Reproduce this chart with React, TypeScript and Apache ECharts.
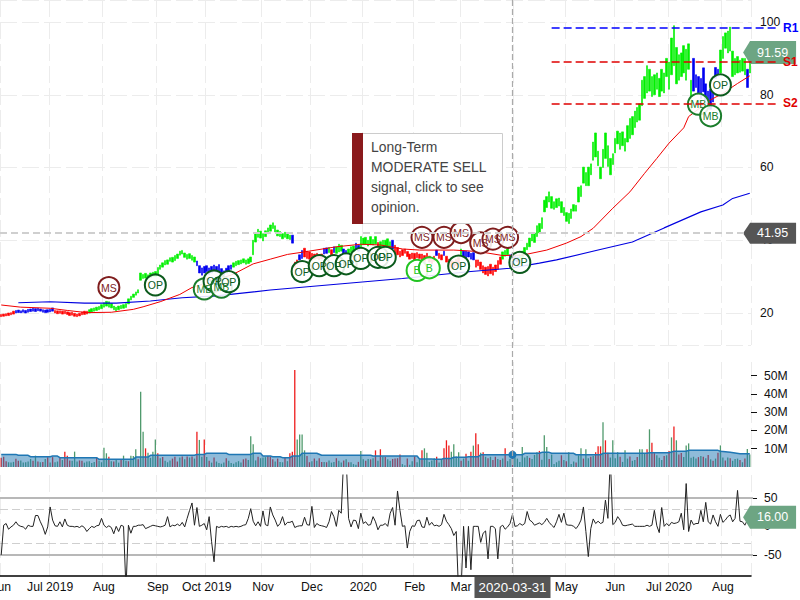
import React, { useEffect, useRef } from "react";
import * as echarts from "echarts";

const FONT = '"Liberation Sans", Arial, sans-serif';

const holidays = ["2019-07-04", "2019-09-02", "2019-11-28", "2019-12-25", "2020-01-01", "2020-01-20", "2020-02-17", "2020-04-10", "2020-05-25", "2020-07-03"];
const firstDay = "2019-06-03";
const barCount = 307;

const monthLabels: Record<string, string> = {
  "2019-06": "Jun", "2019-07": "Jul 2019", "2019-08": "Aug", "2019-09": "Sep", "2019-10": "Oct 2019",
  "2019-11": "Nov", "2019-12": "Dec", "2020-01": "2020", "2020-02": "Feb", "2020-03": "Mar",
  "2020-04": "Apr", "2020-05": "May", "2020-06": "Jun", "2020-07": "Jul 2020", "2020-08": "Aug",
};

// [low, high] of each trading day
const priceBars = [
  [19.0,19.6],[19.1,19.7],[19.2,19.8],[19.3,20.0],[19.5,20.1],[19.7,20.5],
  [20.0,20.7],[20.1,20.8],[20.0,20.6],[20.2,20.9],[20.0,20.7],[20.2,21.0],[20.4,21.1],[20.5,21.3],[20.4,21.2],[20.6,21.3],[20.5,21.1],[20.2,20.9],[20.1,20.8],[20.2,20.9],[20.3,21.0],[20.5,21.4],
  [20.0,20.7],[19.8,20.6],[19.9,20.6],[19.7,20.5],[19.8,20.5],[19.6,20.3],[19.3,20.1],[19.4,20.2],[19.1,19.9],[19.0,19.7],[19.2,19.9],[19.5,20.3],[19.6,20.5],[19.7,20.5],
  [20.0,20.9],[20.3,21.2],[20.5,21.4],[20.7,21.6],[20.9,21.8],[21.2,22.3],[21.6,22.8],[21.9,23.2],[21.6,23.1],[21.4,22.6],[20.9,21.9],[20.6,21.6],[20.9,21.9],[21.2,22.1],[21.3,22.3],[21.5,22.6],
  [22.5,23.9],[23.6,24.6],[24.3,25.2],[24.9,25.8],[25.5,26.4],[29.0,31.0],[29.5,30.6],[29.6,30.9],[29.4,30.5],[29.7,31.0],[30.0,31.2],[30.0,31.4],[30.5,32.5],[32.0,33.2],[32.6,33.8],[33.2,34.4],
  [33.4,34.6],[34.2,35.2],[34.0,35.3],[34.4,35.8],[35.0,36.2],[35.9,37.0],[36.2,37.2],[35.3,36.5],[34.8,36.1],[35.0,36.3],[34.5,35.8],[34.0,35.4],
  [33.0,34.3],[31.0,33.0],[30.4,32.4],[31.0,32.8],[31.4,33.0],[30.6,32.4],[31.0,32.8],[31.6,33.2],[31.2,32.8],[31.5,33.3],[30.6,32.2],[30.4,31.6],[31.0,32.3],[31.5,33.0],[32.0,33.2],
  [32.6,33.8],[33.0,34.2],[33.3,34.4],[33.5,34.6],[33.8,34.9],[33.4,34.6],[33.6,34.9],[34.0,35.4],[36.0,40.0],[39.5,41.8],[40.8,43.0],[40.6,42.5],[39.8,41.8],[41.0,42.6],[41.8,43.4],[42.5,44.2],[43.2,44.8],
  [42.3,44.0],[41.2,42.8],[41.0,42.4],[40.4,41.8],[40.8,42.2],[40.4,41.8],[40.2,41.4],[39.2,41.4],
  [32.6,34.0],[33.4,34.6],[34.6,36.0],[35.0,37.2],[35.4,37.8],[35.0,37.0],[34.8,36.8],[34.5,36.4],[34.8,36.2],[35.0,36.4],[34.6,36.0],[34.9,36.2],
  [36.2,37.8],[36.4,37.9],[36.6,38.0],[36.0,37.4],[36.6,38.2],[36.4,38.2],[36.8,38.9],[37.0,38.6],[36.3,37.6],[36.0,37.2],[36.2,37.6],[36.6,38.2],[37.0,38.4],[37.6,39.2],[37.0,38.6],
  [38.2,41.0],[38.8,40.6],[38.9,40.8],[38.4,40.0],[38.8,41.0],[38.7,40.2],[39.0,41.0],[37.0,39.4],[38.0,39.6],[38.2,40.0],[38.5,40.0],[38.4,40.4],[38.0,39.6],[37.6,40.0],
  [36.4,38.6],[36.0,38.0],[35.4,37.0],[35.8,37.4],[36.4,37.6],[35.5,36.9],[34.8,36.2],[35.0,36.5],[34.6,36.4],[35.2,36.6],[35.0,36.2],[34.5,36.2],[34.2,35.8],[34.8,36.4],[34.0,35.6],[33.6,35.2],[34.2,35.6],
  [35.8,37.3],[35.0,36.4],[34.6,36.0],[35.8,37.0],[34.0,35.6],[32.8,34.8],[32.6,34.4],[32.4,34.2],[33.0,34.8],[33.4,35.2],[36.0,37.6],[35.6,37.0],[35.0,37.0],[35.4,36.8],[34.8,36.4],[34.6,36.6],
  [32.6,34.6],[33.0,34.6],[32.0,34.0],[31.0,33.0],[30.6,32.6],[30.2,32.8],[30.8,33.4],[30.4,32.6],[31.4,33.2],[32.0,34.4],[33.4,35.4],
  [34.8,36.8],[35.6,37.2],[36.0,37.6],[34.6,36.0],[34.8,36.2],[34.4,35.8],[34.0,35.4],
  [34.4,36.0],[35.2,37.0],[36.0,38.0],[37.4,39.2],[38.2,40.6],[39.8,41.8],[39.4,42.0],[41.0,44.0],[42.0,44.6],[43.2,46.2],[47.8,51.0],[49.0,52.0],[50.5,53.3],[48.8,52.0],[48.5,50.6],[49.0,51.4],[49.4,51.6],
  [47.6,50.6],[46.8,49.0],[45.2,47.6],[44.6,47.4],[46.0,48.6],[48.0,49.8],[48.0,49.6],[50.5,54.6],[52.0,55.0],[55.7,60.1],[55.0,58.6],[55.0,60.1],[58.0,61.0],[62.0,67.0],[62.9,69.5],[60.5,64.5],[56.9,60.1],
  [60.0,65.0],[62.5,69.5],[60.3,66.0],[58.0,62.5],[60.8,63.8],[64.0,68.0],[66.5,70.0],[65.0,69.5],[66.0,69.8],[64.5,68.0],[67.0,71.5],[68.0,73.5],[69.0,74.0],[71.0,75.5],[72.5,76.5],[73.0,77.5],
  [77.0,84.0],[79.0,85.0],[80.5,88.0],[81.0,87.0],[79.5,85.0],[80.0,85.5],[81.5,86.0],[79.5,84.5],[81.0,87.0],[80.5,86.0],[85.0,90.0],[81.5,89.0],[85.5,95.6],[88.0,99.0],[83.0,93.0],[84.0,91.0],[85.0,91.5],[86.0,93.5],[84.0,92.5],[87.0,94.0],[76.0,84.0],
  [81.0,90.0],[82.0,85.5],[80.5,85.0],[79.0,84.5],[80.8,87.4],[78.5,83.0],[76.5,81.0],[76.0,81.5],[78.0,81.0],[84.5,87.5],[85.0,87.0],
  [86.0,92.3],[90.0,96.0],[92.8,97.0],[91.5,97.5],[92.0,98.6],[85.0,92.0],[85.5,90.0],[86.0,90.5],[86.2,89.5],[86.5,90.0],[85.5,90.0],[82.0,87.0],[86.0,92.0],
];

// runs of bar colour: the index of each run's last bar, and its colour
const trendEnds = [5, 21, 35, 79, 94, 118, 119, 121, 123, 131, 133, 134, 135, 136, 139, 141, 144, 146, 153, 154, 159, 160, 177, 178, 180, 181, 187, 188, 193, 204, 207, 211, 282, 293, 304, 305, 306];
const trendColors = ["r","b","r","g","b","g","b","r","b","r","b","g","r","b","g","b","g","b","g","r","g","b","r","b","r","b","r","g","b","r","g","b","g","b","g","b","g"];
const barPalette: Record<string, string> = { r: "#ff0000", g: "#00f000", b: "#0000f0" };

const redAverageIdx = [0,8,20,27,35,45,54,58,65,73,78,87,95,103,110,117,123,137,147,155,164,171,185,195,205,213,223,231,237,242,250,257,263,268,273,279,281,290,295,301,306];
const redAverageVal = [22.2,21.6,21.3,20.7,20.1,20.2,21.0,21.7,23.1,25.1,27.0,28.8,30.7,33.5,34.8,36.1,36.7,38.2,38.9,38.7,37.6,37.3,37.3,36.9,35.8,35.9,37.3,39.2,41.0,43.3,48.8,53.3,58.4,62.5,66.7,70.9,74.0,78.6,80.4,83.1,85.2];
const blueAverageIdx = [7,20,34,47,61,74,88,110,137,164,192,208,220,227,244,258,271,286,295,299,306];
const blueAverageVal = [22.8,23.1,22.7,22.7,23.3,24.2,24.7,26.3,27.9,29.5,31.4,32.3,33.7,34.6,37.3,39.5,43.4,47.8,49.7,51.5,52.9];

const markerIdx = [44,63,83,87,90,93,123,130,136,141,147,154,157,170,172,175,181,187,188,196,201,207,212,285,290,294];
const markerVal = [27.0,27.7,26.6,28.8,27.1,28.6,31.4,33,33,33.5,35,35.3,35.3,31.7,40.8,32.4,40.8,32.9,42.1,39.3,40.3,40.8,33.9,77.4,74.2,82.7];
const markerText = ["MS","OP","MB","OP","MB","OP","OP","OP","OP","OP","OP","OP","OP","B","MS","B","MS","OP","MS","MS","MS","MS","OP","MB","MB","OP"];
const markerColor: Record<string, string> = { MS: "#7f1d1d", OP: "#0b5a1c", MB: "#1b7d2c", B: "#22c322" };

const levelNames = ["R1", "S1", "S2"];
const levelVals = [98.3, 89.1, 77.6];
const levelColors = ["#0000ff", "#e00000", "#e00000"];
const levelStartIdx = 225;

const lastPrice = 91.59;
const hoverPrice = 41.95;
const lastCci = 16.0;
const hoverIdx = 209;
const hoverVolume = 6.7;

const volumes = [
  5.0,5.6,3.2,2.6,2.4,2.8,4.5,3.4,3.6,2.4,2.6,3.0,4.4,3.4,6.2,3.0,2.6,2.8,4.4,5.3,
  2.4,5.4,2.6,3.0,5.5,3.8,8.4,6.2,3.6,3.4,8.4,3.0,3.6,3.4,2.4,3.0,3.2,2.2,2.8,5.0,
  3.6,2.6,10.5,7.5,5.6,3.2,3.0,3.8,2.4,4.2,6.2,3.4,3.2,6.2,6.0,9.7,4.2,41.2,19.3,10.2,
  7.8,5.0,8.4,15.1,7.5,4.8,5.5,3.4,2.6,3.6,4.6,5.6,3.0,5.2,5.8,4.2,5.8,5.2,5.8,4.6,
  19.3,14.8,5.6,15.1,5.4,3.4,2.4,5.2,3.0,2.2,1.8,2.4,4.8,3.4,2.2,1.8,2.6,3.2,2.4,4.2,
  4.6,3.8,16.8,12.4,3.6,5.6,4.8,5.2,5.4,6.0,5.6,4.2,3.0,4.6,2.8,2.6,5.4,3.2,7.5,8.4,
  53,15.1,17.8,17.8,9.1,6.0,2.6,3.2,4.6,3.4,4.8,2.8,2.8,2.6,3.6,2.4,2.8,4.8,3.4,2.4,
  3.6,4.2,2.6,2.6,1.6,1.2,2.8,8.8,4.2,3.4,4.4,4.2,4.8,9.1,3.4,9.7,5.6,5.4,4.2,3.4,
  4.4,4.6,4.8,6.9,1.6,1.0,4.6,1.2,3.2,5.8,2.6,4.2,9.1,10.2,7.8,2.8,3.6,4.8,5.6,2.4,
  4.2,10.2,14.6,11.7,8.4,12.4,5.8,8.0,3.4,4.6,7.3,3.4,8.4,11.7,18.4,12.4,7.8,8.0,5.6,4.8,
  5.6,3.8,5.6,4.4,3.8,4.6,10.2,3.2,4.4,9.1,5.2,4.6,2.8,11.0,5.2,6.0,5.0,4.4,6.6,8.0,
  8.8,4.0,17.3,11.0,4.4,6.8,1.6,2.6,3.4,6.4,3.8,3.2,8.0,1.6,3.0,2.4,6.4,10.2,4.6,9.7,
  4.8,5.6,6.0,8.0,11.3,11.3,24.4,14.6,7.8,5.2,14.6,4.8,8.0,5.6,2.8,9.1,4.6,5.8,3.4,3.8,
  5.4,9.7,9.7,7.2,9.7,20.6,13.3,7.6,6.4,5.0,3.8,6.0,6.4,8.8,16.2,22.2,14.6,6.8,7.6,5.4,
  11.8,12.9,5.0,5.6,4.6,5.4,6.0,5.6,4.8,6.6,4.2,3.4,4.6,7.8,11.8,5.2,3.6,5.2,4.8,3.4,
  4.4,4.6,3.8,2.6,4.6,9.9,6.8,
];
const redVolumeIdx = [0,1,2,6,7,13,15,17,19,21,24,26,27,28,32,33,39,44,46,49,52,56,59,64,66,70,71,72,74,76,78,80,83,85,87,92,99,100,105,109,110,111,113,116,118,119,120,125,126,128,130,131,133,137,140,142,146,149,151,153,155,157,160,161,162,163,166,169,172,178,181,182,183,188,190,192,194,195,197,199,201,202,204,206,209,216,220,224,229,231,235,238,241,243,244,245,247,248,253,257,260,264,266,267,271,273,275,277,278,285,287,289,291,293,296,298,302,304];

const volumeAverageIdx = [0,6,7,11,12,20,21,23,24,39,40,54,55,60,61,79,80,83,84,92,93,102,103,106,107,110,111,114,115,118,119,122,123,129,131,151,152,170,171,176,177,180,181,184,185,190,191,195,196,213,214,220,221,224,225,234,235,245,246,264,265,273,275,280,281,293,294,298,302,306];
const volumeAverageVal = [6.9,6.9,6.4,6.4,5.6,5.6,6.0,6.0,5.1,5.1,4.2,4.2,5.4,5.4,6.4,6.4,6.9,6.9,7.5,7.5,6.9,6.9,7.5,7.5,6.0,6.0,5.6,5.6,5.1,5.1,6.0,6.0,7.5,7.5,6.4,6.4,6.0,6.0,4.4,4.4,4.2,4.2,4.7,4.7,5.3,5.3,5.6,5.6,6.7,6.7,7.5,7.5,8.0,8.0,7.5,7.5,6.7,6.7,7.5,7.5,7.8,7.8,8.6,8.6,9.1,9.1,8.6,8.0,7.3,7.3];

const cciVals = [
  -50,2,5,-5,-1,2,8,2,0,-1,-5,2,0,0,19,19,8,-1,-14,-1,34,11,1,0,8,-1,13,2,0,0,
  -1,0,-2,1,-2,-9,-4,0,-2,1,2,14,2,-2,1,-2,-13,0,-9,2,0,-110,2,-12,0,0,2,2,3,-4,
  -2,0,2,1,0,-1,0,2,17,-1,2,1,4,1,7,-1,14,28,41,2,33,0,2,5,-6,17,-27,-62,0,-2,
  0,-1,0,-2,0,-1,0,-1,0,2,3,14,31,9,1,8,0,27,3,1,34,20,11,0,5,17,2,7,7,9,
  -2,0,1,1,16,3,2,35,-2,5,2,1,0,-2,8,26,17,0,28,23,120,120,14,-1,11,10,-4,23,5,8,
  2,3,17,8,-6,2,2,5,0,23,33,2,62,28,0,1,-38,-9,1,0,10,11,-1,-2,16,2,7,1,2,0,
  3,21,9,3,-4,-16,-9,-120,-110,0,-73,0,-76,0,0,0,-28,-12,-8,-57,0,0,-4,-57,-1,2,-5,-1,5,21,
  0,1,5,2,5,26,11,8,2,4,6,3,7,14,7,2,-2,8,21,7,23,3,2,2,0,-4,2,11,34,-9,
  -53,-4,13,5,9,5,7,46,14,120,3,7,17,11,2,1,2,3,4,0,0,0,0,0,2,0,2,28,1,-11,
  33,0,5,1,7,5,6,8,23,-6,75,-9,11,3,5,5,28,8,42,8,4,20,8,0,21,7,11,17,20,8,
  14,63,9,8,2,11,16,
];
const cciBands = [50, -50];
const cciDashBands = [30, -30];

const priceTicks = [20, 40, 60, 80, 100];
const volumeTicks = [10, 20, 30, 40, 50];
const cciTicks = [-50, 0, 50];

const tipLines = ["Long-Term", "MODERATE SELL", "signal, click to see", "opinion."];

function buildDates(): string[] {
  const out: string[] = [];
  let t = Date.parse(firstDay + "T00:00:00Z");
  while (out.length < barCount) {
    const d = new Date(t);
    const s = d.toISOString().slice(0, 10);
    if (d.getUTCDay() !== 0 && d.getUTCDay() !== 6 && !holidays.includes(s)) out.push(s);
    t += 86400000;
  }
  return out;
}

function pairs(a: number[], b: number[]) {
  return a.map((x, i) => [x, b[i]]);
}

function tag(value: number, text: string, color: string, idx: number, h: number) {
  return {
    coord: [idx, value],
    symbol: `path://M0 ${h / 2} L7 0 L53 0 L53 ${h} L7 ${h} Z`,
    symbolSize: [53, h],
    symbolOffset: [19.8, 0],
    itemStyle: { color },
    label: { show: true, formatter: text, color: "#fff", fontSize: 12.5, fontFamily: FONT, position: "inside", offset: [3, 0] },
  };
}

export default function App() {
  const ref = useRef<HTMLDivElement>(null);
  useEffect(() => {
    document.body.style.margin = "0";
    const chart = echarts.init(ref.current!, null, { renderer: "svg" });
    const dates = buildDates();
    const isTick = (i: number) => i === 0 || dates[i].slice(0, 7) !== dates[i - 1].slice(0, 7);
    const colorOf = (i: number) => barPalette[trendColors[trendEnds.findIndex((e) => i <= e)]];
    const gridLine = { show: true, interval: (i: number) => isTick(i), lineStyle: { color: "#ececec", width: 1, type: [17, 5] as any } };
    const xBase = { type: "category" as const, data: dates, boundaryGap: true, splitLine: gridLine, axisTick: { show: false } };

    const option: any = {
      animation: false,
      textStyle: { fontFamily: FONT },
      grid: [
        { left: 0, top: 0, width: 751, height: 345, outerBoundsMode: "none" },
        { left: 0, top: 362, width: 751, height: 105, outerBoundsMode: "none" },
        { left: 0, top: 475, width: 751, height: 101, outerBoundsMode: "none" },
      ],
      xAxis: [
        { ...xBase, gridIndex: 0, axisLine: { show: false }, axisLabel: { show: false } },
        { ...xBase, gridIndex: 1, axisLine: { show: false }, axisLabel: { show: false } },
        {
          ...xBase,
          gridIndex: 2,
          axisLine: { show: true, onZero: false, lineStyle: { color: "#000", width: 1.5 } },
          axisLabel: {
            show: true, interval: (i: number) => isTick(i), color: "#111", fontSize: 12.2, margin: 5, fontFamily: FONT,
            formatter: (v: string) => monthLabels[v.slice(0, 7)],
          },
          axisPointer: {
            show: true, status: "show", value: hoverIdx, snap: false, type: "line",
            lineStyle: { opacity: 0 },
            label: { show: true, backgroundColor: "#555", color: "#fff", fontSize: 13.3, fontFamily: FONT, padding: [4, 4, 4, 4], margin: 1, borderRadius: 0, shadowBlur: 0 },
          },
        },
      ],
      yAxis: [
        {
          type: "value", gridIndex: 0, position: "right", min: 11.2, max: 106.05,
          axisLine: { show: false }, axisTick: { show: false },
          splitLine: { show: true, customValues: priceTicks, lineStyle: { color: "#ececec", width: 1, type: [17, 5] } },
          axisLabel: { show: true, customValues: priceTicks, color: "#111", fontSize: 12.2, margin: 9, fontFamily: FONT },
        },
        {
          type: "value", gridIndex: 1, position: "right", min: 0, max: 57.4,
          axisLine: { show: false }, splitLine: { show: false },
          axisTick: { show: true, customValues: volumeTicks, length: 6, lineStyle: { color: "#111" } },
          axisLabel: { show: true, customValues: volumeTicks, color: "#111", fontSize: 12.2, margin: 13, fontFamily: FONT, formatter: (v: number) => v + "M" },
        },
        {
          type: "value", gridIndex: 2, position: "right", min: -87, max: 90,
          axisLine: { show: false }, splitLine: { show: false },
          axisTick: { show: true, customValues: cciTicks, length: 6, lineStyle: { color: "#111" } },
          axisLabel: { show: true, customValues: cciTicks, color: "#111", fontSize: 12.2, margin: 13, fontFamily: FONT },
        },
      ],
      series: [
        {
          type: "candlestick", xAxisIndex: 0, yAxisIndex: 0, barWidth: 2, z: 2,
          data: priceBars.map(([lo, hi], i) => {
            const c = colorOf(i);
            return { value: [lo, hi, lo, hi], itemStyle: { color: c, color0: c, borderColor: c, borderColor0: c, borderWidth: 0.6 } };
          }),
        },
        {
          type: "line", xAxisIndex: 0, yAxisIndex: 0, showSymbol: false, z: 3,
          data: pairs(blueAverageIdx, blueAverageVal), lineStyle: { color: "#0000e0", width: 1.1 },
        },
        {
          type: "line", xAxisIndex: 0, yAxisIndex: 0, showSymbol: false, z: 3,
          data: pairs(redAverageIdx, redAverageVal), lineStyle: { color: "#f00000", width: 1 },
          markLine: {
            silent: true, symbol: "none", z: 6, label: { show: false },
            data: [
              [
                { x: 0, yAxis: hoverPrice, lineStyle: { color: "#cfcfcf", width: 2, type: [7, 4] } },
                { x: 745, yAxis: hoverPrice },
              ],
              [
                { xAxis: hoverIdx, y: 0, lineStyle: { color: "#aaa", width: 1.2, type: [6, 3] } },
                { xAxis: hoverIdx, y: 576 },
              ],
              ...levelNames.map((name, i) => [
                {
                  xAxis: levelStartIdx, yAxis: levelVals[i],
                  lineStyle: { color: levelColors[i], width: 1.5, type: [8, 4] },
                  label: { show: true, position: "end", formatter: name, color: levelColors[i], fontWeight: "bold", fontSize: 12, fontFamily: FONT, distance: 6 },
                },
                { x: 777, yAxis: levelVals[i] },
              ]),
            ],
          },
          markPoint: {
            silent: true, z: 4,
            data: [tag(hoverPrice, hoverPrice.toFixed(2), "#555555", barCount - 1, 21), tag(lastPrice, lastPrice.toFixed(2), "#6da583", barCount - 1, 23)],
          },
        },
        {
          type: "scatter", xAxisIndex: 0, yAxisIndex: 0, z: 5, symbol: "circle", symbolSize: 21, clip: false,
          data: markerIdx.map((x, i) => {
            const c = markerColor[markerText[i]];
            return {
              value: [x, markerVal[i]],
              itemStyle: { color: "rgba(255,255,255,0.88)", borderColor: c, borderWidth: 2, opacity: 1 },
              label: { show: true, position: "inside", formatter: markerText[i], color: c, fontSize: 10.5, fontFamily: FONT },
            };
          }),
        },
        {
          type: "bar", xAxisIndex: 1, yAxisIndex: 1, barWidth: 1.3, z: 2,
          data: volumes.map((v, i) => ({
            value: v,
            itemStyle: { color: redVolumeIdx.includes(i) ? "#ee1c1c" : "#4f9a6c" },
          })),
        },
        {
          type: "line", xAxisIndex: 1, yAxisIndex: 1, showSymbol: false, z: 3,
          data: pairs(volumeAverageIdx, volumeAverageVal),
          lineStyle: { color: "#1f77b4", width: 1.5 },
          areaStyle: { color: "#1f77b4", opacity: 0.5 },
          markPoint: {
            silent: true,
            data: [{ coord: [hoverIdx, hoverVolume], symbol: "circle", symbolSize: 8, itemStyle: { color: "#1f77b4" }, label: { show: false } }],
          },
        },
        {
          type: "line", xAxisIndex: 2, yAxisIndex: 2, showSymbol: false, z: 3, clip: true,
          data: cciVals, lineStyle: { color: "#222", width: 1 },
          markLine: {
            silent: true, symbol: "none", z: 2, label: { show: false },
            data: [
              ...cciBands.map((v) => [
                { x: 0, yAxis: v, lineStyle: { color: "#b8b8b8", width: 2, type: "solid" } },
                { x: 753, yAxis: v },
              ]),
              ...cciDashBands.map((v) => [
                { x: 0, yAxis: v, lineStyle: { color: "#cfcfcf", width: 1, type: [8, 4] } },
                { x: 751, yAxis: v },
              ]),
            ],
          },
          markPoint: {
            silent: true, z: 4,
            data: [tag(lastCci, lastCci.toFixed(2), "#6da583", barCount - 1, 23)],
          },
        },
      ],
      graphic: [
        { type: "rect", z: 100, silent: true, shape: { x: 352.5, y: 133.5, width: 150, height: 90 }, style: { fill: "#fff", stroke: "#cccccc", lineWidth: 1 } },
        { type: "rect", z: 101, silent: true, shape: { x: 352, y: 133, width: 11, height: 91 }, style: { fill: "#8a1a1c" } },
        {
          type: "text", z: 101, silent: true, x: 371, y: 137,
          style: { text: tipLines.join("\n"), fill: "#444", font: `13.9px ${FONT}`, lineHeight: 20 },
        },
      ],
    };
    chart.setOption(option);
    return () => chart.dispose();
  }, []);
  return <div ref={ref} style={{ width: 800, height: 600 }} />;
}
